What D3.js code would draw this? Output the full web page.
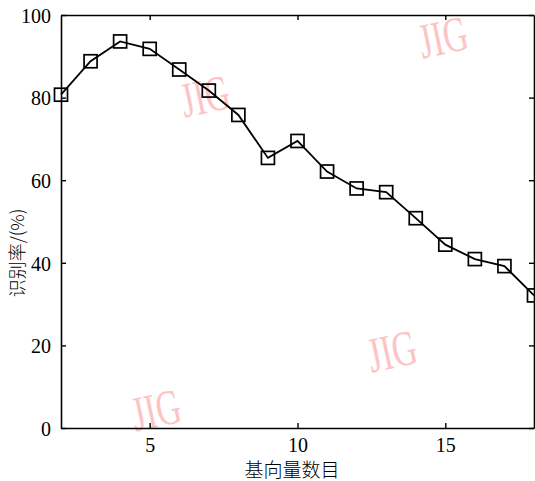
<!DOCTYPE html>
<html>
<head>
<meta charset="utf-8">
<script src="https://cdn.jsdelivr.net/npm/d3@7"></script>
<style>
  body { margin: 0; background: #fff; }
  svg text { font-family: "Liberation Serif", "Times New Roman", serif; }
</style>
</head>
<body>
<div id="chart"></div>
<script>
let width = 535, height = 481;
let margin = ({top: 15, right: 1, bottom: 53, left: 61});

// number of basis vectors vs recognition rate (%)
let basisCount = [2, 3, 4, 5, 6, 7, 8, 9, 10, 11, 12, 13, 14, 15, 16, 17, 18];
let recogRate = [80.7, 88.8, 93.6, 91.8, 86.8, 81.7, 75.8, 65.4, 69.5, 62.1, 58.0, 57.1, 50.8, 44.4, 40.9, 39.2, 32.1];
let xTicks = [5, 10, 15];
let yTicks = [0, 20, 40, 60, 80, 100];
let xTitle = "基向量数目";
let yTitle = "识别率/(%)";

let data = basisCount.map((d, i) => ({x: d, y: recogRate[i]}));

let svg = d3.select("#chart").append("svg")
    .attr("width", width)
    .attr("height", height);

let x = d3.scaleLinear().domain([2, 18]).range([margin.left, width - margin.right]);
let y = d3.scaleLinear().domain([0, 100]).range([height - margin.bottom, margin.top]);

// watermarks
let marks = [[443, 37], [205, 96], [392, 351], [156, 410]];
svg.selectAll(".wm").data(marks).enter().append("text")
    .attr("class", "wm")
    .attr("transform", d => `translate(${d[0]},${d[1]}) rotate(-12) scale(0.68,1)`)
    .attr("text-anchor", "middle")
    .attr("dominant-baseline", "central")
    .attr("fill", "#fcc4c4")
    .style("font-size", "50px")
    .text("JIG");

// box frame with inward ticks
let gBottom = svg.append("g")
    .attr("transform", `translate(0,${height - margin.bottom})`)
    .call(d3.axisBottom(x).tickValues(xTicks).tickSizeInner(-5).tickSizeOuter(0).tickPadding(10));
let gTop = svg.append("g")
    .attr("transform", `translate(0,${margin.top})`)
    .call(d3.axisTop(x).tickValues(xTicks).tickSizeInner(-5).tickSizeOuter(0).tickFormat(""));
let gLeft = svg.append("g")
    .attr("transform", `translate(${margin.left},0)`)
    .call(d3.axisLeft(y).tickValues(yTicks).tickSizeInner(-5).tickSizeOuter(0).tickPadding(10));
let gRight = svg.append("g")
    .attr("transform", `translate(${width - margin.right},0)`)
    .call(d3.axisRight(y).tickValues(yTicks).tickSizeInner(-5).tickSizeOuter(0).tickFormat(""));

[gBottom, gTop, gLeft, gRight].forEach(g => {
    g.select(".domain").attr("stroke", "#000").attr("stroke-width", 1.6);
    g.selectAll(".tick line").attr("stroke", "#000").attr("stroke-width", 1.4);
    g.selectAll(".tick text")
        .attr("fill", "#000")
        .style("font-size", "20px")
        .style("font-family", "'Liberation Serif', serif");
});
gLeft.selectAll(".tick text").attr("dy", "0.36em");

// line + square markers
let line = d3.line().x(d => x(d.x)).y(d => y(d.y));
svg.append("path")
    .datum(data)
    .attr("fill", "none")
    .attr("stroke", "#000")
    .attr("stroke-width", 1.8)
    .attr("d", line);

let sq = 13;
svg.selectAll(".pt").data(data).enter().append("rect")
    .attr("class", "pt")
    .attr("x", d => x(d.x) - sq / 2)
    .attr("y", d => y(d.y) - sq / 2)
    .attr("width", sq)
    .attr("height", sq)
    .attr("fill", "none")
    .attr("stroke", "#000")
    .attr("stroke-width", 1.7);

// axis titles
svg.append("text")
    .attr("x", 292)
    .attr("y", 477)
    .attr("text-anchor", "middle")
    .style("font-family", "'Noto Sans CJK SC', sans-serif")
    .style("font-weight", 300)
    .style("font-size", "19px")
    .text(xTitle);

svg.append("text")
    .attr("transform", `translate(24,253) rotate(-90)`)
    .attr("text-anchor", "middle")
    .style("font-family", "'Noto Sans CJK SC', sans-serif")
    .style("font-weight", 300)
    .style("font-size", "18px")
    .text(yTitle);
</script>
</body>
</html>
